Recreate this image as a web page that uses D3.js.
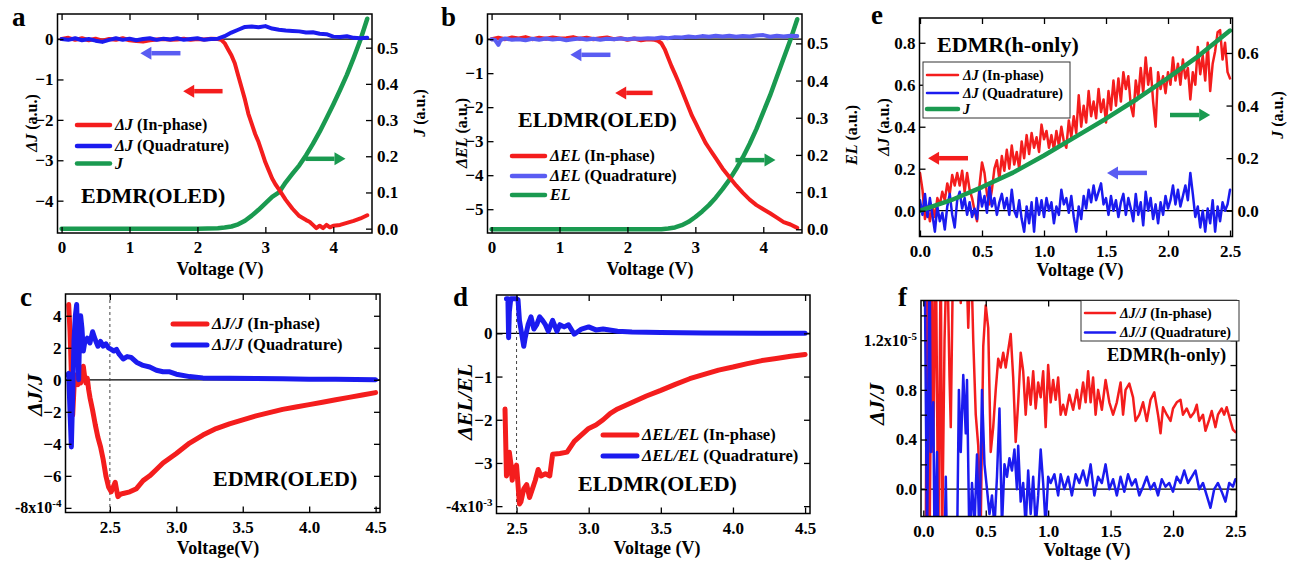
<!DOCTYPE html>
<html>
<head>
<meta charset="utf-8">
<script src="https://cdn.jsdelivr.net/npm/d3@7"></script>
<style>
body { margin: 0; background: #fff; }
svg { font-family: "Liberation Serif", "Times New Roman", serif; font-weight: bold; }
</style>
</head>
<body>
<svg id="fig" width="1291" height="565"></svg>
<script>
// ---- data ----
// panel a : [voltage, value]
const aInPhase = [[0,0],[0.1,0.03],[0.2,-0.02],[0.3,0.02],[0.4,-0.03],[0.5,0.01],[0.6,-0.04],[0.7,0.0],[0.8,-0.02],[0.9,0.02],[1.0,-0.03],[1.1,-0.05],[1.2,-0.06],[1.3,-0.03],[1.4,-0.01],[1.5,0.0],[1.6,-0.02],[1.7,-0.01],[1.8,0.01],[1.9,-0.02],[2.0,0.0],[2.1,-0.01],[2.2,0.01],[2.3,0.0],[2.35,-0.02],[2.4,-0.1],[2.45,-0.25],[2.5,-0.4],[2.55,-0.6],[2.6,-0.9],[2.65,-1.2],[2.7,-1.5],[2.75,-1.85],[2.8,-2.1],[2.85,-2.35],[2.9,-2.55],[2.95,-2.8],[3.0,-3.05],[3.05,-3.25],[3.1,-3.45],[3.15,-3.6],[3.2,-3.72],[3.25,-3.85],[3.3,-3.98],[3.4,-4.2],[3.5,-4.38],[3.6,-4.48],[3.65,-4.52],[3.7,-4.6],[3.75,-4.68],[3.8,-4.62],[3.85,-4.68],[3.9,-4.6],[3.95,-4.66],[4.0,-4.62],[4.1,-4.6],[4.2,-4.55],[4.3,-4.5],[4.4,-4.44],[4.5,-4.36]];
const aQuad = [[0,0],[0.1,-0.02],[0.2,0.02],[0.3,-0.03],[0.4,0.0],[0.5,-0.04],[0.6,-0.07],[0.7,-0.02],[0.8,0.02],[0.9,-0.02],[1.0,0.01],[1.1,-0.03],[1.2,0.0],[1.3,0.02],[1.4,-0.02],[1.5,0.01],[1.6,-0.01],[1.7,0.02],[1.8,-0.02],[1.9,0.0],[2.0,0.02],[2.1,-0.02],[2.2,0.0],[2.3,0.01],[2.4,0.07],[2.5,0.16],[2.6,0.23],[2.7,0.3],[2.8,0.31],[2.9,0.29],[3.0,0.32],[3.1,0.26],[3.2,0.23],[3.3,0.21],[3.4,0.2],[3.5,0.19],[3.6,0.16],[3.7,0.17],[3.8,0.13],[3.9,0.12],[4.0,0.06],[4.1,0.05],[4.2,0.07],[4.3,0.03],[4.4,0.02],[4.5,0.03]];
const aJ = [[0,0],[0.5,0],[1,0],[1.5,0],[2,0],[2.3,0.001],[2.4,0.003],[2.5,0.006],[2.6,0.012],[2.7,0.022],[2.8,0.036],[2.9,0.052],[3.0,0.07],[3.1,0.088],[3.2,0.1],[3.3,0.128],[3.4,0.152],[3.5,0.175],[3.6,0.203],[3.7,0.234],[3.8,0.268],[3.9,0.305],[4.0,0.343],[4.1,0.383],[4.2,0.425],[4.3,0.472],[4.4,0.522],[4.5,0.58]];

// panel b
const bInPhase = [[0,0],[0.1,0.04],[0.2,0.0],[0.3,0.05],[0.4,0.02],[0.5,0.06],[0.6,0.0],[0.7,0.04],[0.8,0.01],[0.9,0.05],[1.0,0.02],[1.1,0.03],[1.2,0.06],[1.3,0.01],[1.4,0.04],[1.5,0.0],[1.6,0.03],[1.7,0.05],[1.8,0.0],[1.9,0.03],[2.0,-0.02],[2.1,0.02],[2.2,-0.03],[2.3,0.0],[2.4,-0.02],[2.45,-0.05],[2.5,-0.12],[2.55,-0.3],[2.6,-0.55],[2.65,-0.8],[2.7,-1.02],[2.75,-1.25],[2.8,-1.5],[2.85,-1.75],[2.9,-2.0],[2.95,-2.25],[3.0,-2.45],[3.05,-2.65],[3.1,-2.85],[3.15,-3.05],[3.2,-3.2],[3.25,-3.35],[3.3,-3.5],[3.4,-3.8],[3.5,-4.05],[3.6,-4.3],[3.7,-4.52],[3.8,-4.72],[3.9,-4.88],[4.0,-5.0],[4.1,-5.12],[4.2,-5.25],[4.3,-5.38],[4.4,-5.45],[4.5,-5.55]];
const bQuad = [[0,0],[0.05,-0.02],[0.1,-0.17],[0.13,-0.03],[0.2,0.02],[0.3,-0.02],[0.4,0.0],[0.5,-0.03],[0.6,0.01],[0.7,-0.02],[0.8,0.02],[0.9,-0.01],[1.0,0.01],[1.1,-0.03],[1.2,0.0],[1.3,0.02],[1.4,-0.01],[1.5,0.01],[1.6,-0.02],[1.7,0.01],[1.8,0.0],[1.9,0.02],[2.0,0.0],[2.1,0.02],[2.2,0.01],[2.3,0.03],[2.4,0.02],[2.5,0.05],[2.6,0.03],[2.7,0.06],[2.8,0.05],[2.9,0.08],[3.0,0.06],[3.1,0.09],[3.2,0.07],[3.3,0.1],[3.4,0.08],[3.5,0.1],[3.6,0.07],[3.7,0.09],[3.8,0.08],[3.9,0.11],[4.0,0.12],[4.1,0.07],[4.2,0.1],[4.3,0.08],[4.4,0.1],[4.5,0.09]];
const bEL = [[0,0],[0.5,0],[1,0],[1.5,0],[2,0],[2.5,0],[2.6,0.002],[2.7,0.005],[2.8,0.011],[2.9,0.02],[3.0,0.033],[3.1,0.048],[3.2,0.065],[3.3,0.085],[3.4,0.108],[3.5,0.133],[3.6,0.162],[3.7,0.194],[3.8,0.23],[3.9,0.27],[4.0,0.315],[4.1,0.36],[4.2,0.41],[4.3,0.46],[4.4,0.51],[4.5,0.565]];

// panel c (x1e-4)
const cInPhase = [[2.19,4.7],[2.2,3.0],[2.21,0.5],[2.22,-2.2],[2.23,-0.5],[2.24,0.3],[2.25,0.0],[2.26,-0.3],[2.27,0.2],[2.28,-0.2],[2.29,0.4],[2.30,0.85],[2.31,0.2],[2.32,-0.2],[2.33,0.1],[2.34,-0.6],[2.35,-1.1],[2.37,-1.9],[2.39,-2.8],[2.41,-3.6],[2.43,-4.2],[2.45,-5.0],[2.47,-6.0],[2.49,-6.7],[2.51,-7.0],[2.53,-6.6],[2.54,-6.4],[2.56,-7.3],[2.58,-7.15],[2.6,-7.1],[2.65,-7.0],[2.7,-6.8],[2.75,-6.3],[2.8,-6.0],[2.85,-5.6],[2.9,-5.2],[2.95,-4.9],[3.0,-4.6],[3.1,-3.95],[3.2,-3.45],[3.3,-3.05],[3.4,-2.75],[3.5,-2.5],[3.6,-2.25],[3.7,-2.05],[3.8,-1.85],[3.9,-1.7],[4.0,-1.55],[4.1,-1.4],[4.2,-1.25],[4.3,-1.1],[4.4,-0.95],[4.5,-0.8]];
const cQuad = [[2.18,0.3],[2.19,0.4],[2.2,-2.0],[2.21,-4.2],[2.22,-1.0],[2.23,2.5],[2.24,4.0],[2.25,4.7],[2.26,2.0],[2.265,0.0],[2.27,2.0],[2.28,4.0],[2.29,3.2],[2.3,1.8],[2.31,2.3],[2.33,2.6],[2.35,2.3],[2.37,3.0],[2.39,2.5],[2.41,2.1],[2.43,2.4],[2.45,2.1],[2.47,2.25],[2.49,2.0],[2.51,1.9],[2.53,1.8],[2.55,1.9],[2.57,1.6],[2.6,1.3],[2.63,1.45],[2.66,1.4],[2.7,1.1],[2.75,0.9],[2.8,0.8],[2.85,0.6],[2.9,0.5],[2.95,0.5],[3.0,0.35],[3.1,0.2],[3.2,0.12],[3.4,0.1],[3.6,0.08],[3.8,0.06],[4.0,0.04],[4.2,0.03],[4.5,0.0]];

// panel d (x1e-3)
const dInPhase = [[2.42,-1.75],[2.43,-3.3],[2.44,-3.2],[2.45,-2.75],[2.46,-3.0],[2.47,-3.4],[2.48,-3.1],[2.49,-3.3],[2.5,-3.05],[2.51,-3.5],[2.52,-3.95],[2.53,-3.9],[2.55,-3.6],[2.57,-3.5],[2.59,-3.8],[2.61,-3.6],[2.63,-3.4],[2.65,-3.15],[2.67,-3.3],[2.7,-3.25],[2.73,-3.3],[2.75,-2.8],[2.8,-2.78],[2.85,-2.75],[2.9,-2.5],[2.95,-2.35],[3.0,-2.2],[3.05,-2.12],[3.1,-2.0],[3.15,-1.85],[3.2,-1.75],[3.3,-1.6],[3.4,-1.45],[3.5,-1.32],[3.6,-1.18],[3.7,-1.05],[3.8,-0.95],[3.9,-0.85],[4.0,-0.78],[4.1,-0.7],[4.2,-0.63],[4.3,-0.58],[4.4,-0.53],[4.5,-0.49]];
const dQuad = [[2.43,0.8],[2.44,0.8],[2.445,-0.1],[2.45,0.5],[2.46,0.8],[2.48,0.8],[2.5,0.8],[2.51,0.78],[2.52,0.3],[2.53,0.1],[2.55,-0.3],[2.56,-0.1],[2.58,0.2],[2.6,0.38],[2.62,0.1],[2.64,0.2],[2.66,0.38],[2.68,0.3],[2.7,0.2],[2.72,0.05],[2.75,0.3],[2.78,0.05],[2.8,0.2],[2.83,0.15],[2.86,0.2],[2.9,-0.02],[2.95,0.1],[3.0,0.15],[3.05,0.08],[3.1,0.1],[3.2,0.05],[3.3,0.03],[3.5,0.02],[3.8,0.01],[4.2,0.0],[4.5,0.0]];

// panel e
const eInPhase = [[0.00,0.18],[0.02,0.10],[0.04,-0.04],[0.06,0.02],[0.08,-0.05],[0.10,0.02],[0.12,-0.03],[0.14,0.06],[0.16,0.03],[0.18,0.09],[0.20,0.05],[0.22,0.13],[0.24,0.08],[0.26,0.17],[0.28,0.12],[0.30,0.18],[0.32,0.12],[0.34,0.19],[0.36,0.09],[0.38,0.18],[0.40,0.10],[0.42,0.06],[0.44,0.00],[0.46,-0.05],[0.48,0.12],[0.50,0.23],[0.52,0.18],[0.54,0.08],[0.56,0.03],[0.58,0.10],[0.60,0.20],[0.62,0.24],[0.64,0.15],[0.66,0.26],[0.68,0.19],[0.70,0.29],[0.72,0.20],[0.74,0.31],[0.76,0.22],[0.78,0.28],[0.80,0.20],[0.82,0.33],[0.84,0.25],[0.86,0.36],[0.88,0.27],[0.90,0.37],[0.92,0.30],[0.94,0.35],[0.96,0.28],[0.98,0.41],[1.00,0.34],[1.02,0.38],[1.04,0.30],[1.06,0.36],[1.08,0.29],[1.10,0.38],[1.12,0.31],[1.14,0.40],[1.16,0.33],[1.18,0.30],[1.20,0.43],[1.22,0.35],[1.24,0.45],[1.26,0.37],[1.28,0.55],[1.30,0.40],[1.32,0.50],[1.34,0.42],[1.36,0.57],[1.38,0.45],[1.40,0.52],[1.42,0.44],[1.44,0.58],[1.46,0.47],[1.48,0.53],[1.50,0.42],[1.52,0.57],[1.54,0.48],[1.56,0.62],[1.58,0.50],[1.60,0.63],[1.62,0.52],[1.64,0.66],[1.66,0.58],[1.68,0.64],[1.70,0.50],[1.72,0.45],[1.74,0.62],[1.76,0.54],[1.78,0.68],[1.80,0.56],[1.82,0.73],[1.84,0.60],[1.86,0.68],[1.88,0.52],[1.90,0.40],[1.92,0.66],[1.94,0.58],[1.96,0.64],[1.98,0.56],[2.00,0.66],[2.02,0.60],[2.04,0.73],[2.06,0.62],[2.08,0.70],[2.10,0.60],[2.12,0.72],[2.14,0.63],[2.16,0.68],[2.18,0.53],[2.20,0.66],[2.22,0.60],[2.24,0.78],[2.26,0.65],[2.28,0.74],[2.30,0.62],[2.32,0.80],[2.34,0.57],[2.36,0.70],[2.38,0.76],[2.40,0.85],[2.42,0.86],[2.44,0.72],[2.46,0.80],[2.48,0.66],[2.50,0.63]];
const eQuad = [[0.00,0.05],[0.02,-0.02],[0.04,0.08],[0.06,-0.03],[0.08,0.06],[0.10,-0.02],[0.12,-0.10],[0.14,0.02],[0.16,-0.05],[0.18,-0.01],[0.20,-0.09],[0.22,0.02],[0.24,0.08],[0.26,-0.02],[0.28,-0.08],[0.30,0.05],[0.32,0.09],[0.34,0.01],[0.36,0.06],[0.38,-0.02],[0.40,0.04],[0.42,-0.03],[0.44,0.01],[0.46,-0.04],[0.48,0.10],[0.50,0.02],[0.52,0.07],[0.54,-0.01],[0.56,0.12],[0.58,0.02],[0.60,0.06],[0.62,-0.02],[0.64,0.04],[0.66,0.08],[0.68,0.01],[0.70,0.06],[0.72,-0.02],[0.74,0.10],[0.76,0.00],[0.78,-0.03],[0.80,0.05],[0.82,-0.04],[0.84,-0.10],[0.86,0.02],[0.88,-0.06],[0.90,0.04],[0.92,-0.10],[0.94,0.06],[0.96,-0.02],[0.98,0.05],[1.00,-0.03],[1.02,0.06],[1.04,0.00],[1.06,0.04],[1.08,-0.06],[1.10,0.02],[1.12,-0.02],[1.14,0.10],[1.16,0.03],[1.18,0.06],[1.20,-0.01],[1.22,0.07],[1.24,-0.03],[1.26,-0.10],[1.28,0.02],[1.30,-0.04],[1.32,0.07],[1.34,0.01],[1.36,0.10],[1.38,0.04],[1.40,0.12],[1.42,0.05],[1.44,0.09],[1.46,0.13],[1.48,0.03],[1.50,0.06],[1.52,-0.02],[1.54,0.07],[1.56,0.00],[1.58,0.05],[1.60,-0.03],[1.62,0.04],[1.64,0.08],[1.66,-0.02],[1.68,0.06],[1.70,0.01],[1.72,-0.05],[1.74,0.08],[1.76,-0.02],[1.78,0.04],[1.80,-0.07],[1.82,0.09],[1.84,0.00],[1.86,0.06],[1.88,-0.04],[1.90,0.03],[1.92,-0.06],[1.94,0.04],[1.96,-0.02],[1.98,0.07],[2.00,0.01],[2.02,0.05],[2.04,0.12],[2.06,0.03],[2.08,0.10],[2.10,0.02],[2.12,0.07],[2.14,0.12],[2.16,0.05],[2.18,0.18],[2.20,0.08],[2.22,-0.03],[2.24,0.02],[2.26,-0.08],[2.28,0.00],[2.30,-0.10],[2.32,0.01],[2.34,-0.06],[2.36,0.05],[2.38,-0.10],[2.40,0.02],[2.42,-0.05],[2.44,0.04],[2.46,0.00],[2.48,0.03],[2.50,0.10]];
const eJ = [[0,0],[0.25,0.04],[0.5,0.09],[0.75,0.145],[1.0,0.21],[1.25,0.28],[1.5,0.35],[1.75,0.425],[2.0,0.505],[2.25,0.59],[2.5,0.685]];

// panel f (x1e-5)
const fInPhase = [[0.02,-0.4],[0.03,2.0],[0.05,-0.5],[0.07,2.0],[0.08,0.3],[0.10,2.0],[0.12,-0.5],[0.14,2.0],[0.15,-0.5],[0.17,1.2],[0.19,2.0],[0.21,0.9],[0.22,0.5],[0.24,2.0],[0.26,1.6],[0.28,2.0],[0.30,1.5],[0.32,2.0],[0.34,2.0],[0.36,1.3],[0.38,2.0],[0.40,1.2],[0.42,0.6],[0.44,0.35],[0.46,-0.3],[0.48,1.15],[0.50,1.48],[0.52,1.30],[0.54,0.3],[0.56,0.5],[0.58,0.8],[0.60,1.05],[0.62,0.98],[0.64,1.1],[0.66,0.98],[0.68,1.12],[0.70,1.25],[0.72,0.9],[0.74,0.38],[0.76,0.7],[0.78,1.1],[0.80,0.95],[0.82,0.6],[0.84,0.9],[0.86,0.68],[0.88,0.95],[0.90,0.65],[0.92,0.86],[0.94,0.74],[0.96,0.95],[0.98,0.5],[1.00,1.0],[1.02,0.7],[1.04,0.88],[1.06,0.72],[1.08,0.9],[1.10,0.6],[1.12,0.68],[1.14,0.6],[1.17,0.76],[1.20,0.64],[1.23,0.8],[1.25,0.65],[1.28,0.86],[1.30,0.7],[1.32,0.95],[1.34,0.7],[1.36,0.9],[1.38,0.6],[1.40,0.8],[1.43,0.64],[1.46,0.88],[1.49,0.7],[1.52,0.6],[1.55,0.7],[1.58,0.86],[1.60,0.6],[1.62,0.8],[1.65,0.85],[1.68,0.74],[1.70,0.55],[1.73,0.6],[1.76,0.7],[1.79,0.55],[1.82,0.72],[1.85,0.78],[1.88,0.6],[1.90,0.45],[1.92,0.66],[1.95,0.6],[1.98,0.55],[2.00,0.65],[2.03,0.7],[2.06,0.72],[2.08,0.6],[2.11,0.65],[2.14,0.58],[2.17,0.62],[2.19,0.68],[2.21,0.55],[2.24,0.6],[2.26,0.47],[2.29,0.56],[2.31,0.63],[2.34,0.5],[2.36,0.6],[2.39,0.65],[2.41,0.6],[2.43,0.66],[2.46,0.55],[2.48,0.48],[2.50,0.46]];
const fQuad = [[0.01,2.0],[0.03,-0.5],[0.05,2.0],[0.06,0.3],[0.08,0.7],[0.09,-0.5],[0.11,0.3],[0.12,-0.5],[0.17,-0.5],[0.18,0.1],[0.19,-0.5],[0.27,-0.5],[0.285,0.8],[0.30,0.3],[0.32,0.92],[0.34,0.45],[0.35,0.88],[0.37,-0.5],[0.39,0.05],[0.41,-0.3],[0.43,0.28],[0.45,-0.4],[0.47,0.8],[0.49,0.2],[0.51,0.0],[0.53,-0.2],[0.55,-0.05],[0.57,-0.3],[0.59,0.1],[0.61,0.65],[0.63,-0.3],[0.65,0.2],[0.67,0.1],[0.69,0.25],[0.71,0.15],[0.73,0.32],[0.75,0.0],[0.76,0.35],[0.78,-0.1],[0.80,0.05],[0.82,-0.3],[0.84,0.15],[0.86,-0.2],[0.88,0.1],[0.90,-0.3],[0.92,-0.05],[0.94,0.32],[0.96,0.05],[0.98,-0.3],[1.00,0.1],[1.02,0.05],[1.05,0.12],[1.08,-0.05],[1.10,0.12],[1.13,0.0],[1.16,0.1],[1.19,-0.05],[1.22,0.12],[1.25,0.05],[1.28,0.15],[1.31,0.03],[1.34,0.2],[1.37,-0.05],[1.40,0.1],[1.43,0.05],[1.46,0.2],[1.49,0.0],[1.52,0.08],[1.55,-0.05],[1.58,0.1],[1.61,-0.02],[1.64,0.12],[1.67,0.03],[1.70,0.08],[1.73,-0.05],[1.76,0.02],[1.79,0.1],[1.82,0.0],[1.85,0.05],[1.88,-0.05],[1.91,0.08],[1.94,0.02],[1.97,0.05],[2.00,-0.02],[2.03,0.1],[2.06,0.05],[2.09,0.15],[2.12,0.05],[2.15,0.1],[2.18,0.15],[2.21,0.0],[2.24,0.05],[2.27,-0.05],[2.30,-0.15],[2.33,0.0],[2.36,0.05],[2.39,-0.02],[2.42,-0.1],[2.45,0.05],[2.48,0.02],[2.50,0.08]];

// tick values
const xTicksOled = [0, 1, 2, 3, 4];
const xTicksHole = [0, 0.5, 1.0, 1.5, 2.0, 2.5];
const xTicksRatio = [2.5, 3.0, 3.5, 4.0, 4.5];
const aYTicks = [-4, -3, -2, -1, 0];
const bYTicks = [-5, -4, -3, -2, -1, 0];
const rightTicksOled = [0, 0.1, 0.2, 0.3, 0.4, 0.5];
const eYTicks = [0, 0.2, 0.4, 0.6, 0.8];
const eRightTicks = [0, 0.2, 0.4, 0.6];
const cYTicks = [-8, -6, -4, -2, 0, 2, 4];
const dYTicks = [-4, -3, -2, -1, 0];
const fYTicks = [0, 0.2, 0.4, 0.6, 0.8, 1.0, 1.2, 1.4];
const fYLabels = [0, 0.4, 0.8, 1.2];

const RED = '#f41d1d', BLUE = '#1b1bef', GREEN = '#1a9a50', LBLUE = '#5a5cf2';
const TICK_FONT = 17;

const svg = d3.select('#fig');
const f1 = d3.format('.1f');

function makePanel (p) {
    const x = d3.scaleLinear().domain(p.xDomain).range([p.left, p.right]);
    const y = d3.scaleLinear().domain(p.yDomain).range([p.bottom, p.top]);
    const y2 = p.y2Domain ? d3.scaleLinear().domain(p.y2Domain).range([p.bottom, p.top]) : null;
    const g = svg.append('g');

    g.append('clipPath').attr('id', 'clip-' + p.id)
        .append('rect')
        .attr('x', p.left).attr('y', p.top)
        .attr('width', p.right - p.left).attr('height', p.bottom - p.top);

    const plot = g.append('g').attr('clip-path', 'url(#clip-' + p.id + ')');

    plot.append('line')
        .attr('x1', p.left).attr('x2', p.right)
        .attr('y1', y(0)).attr('y2', y(0))
        .attr('stroke', '#000').attr('stroke-width', 1.3);

    if (p.dashAt) {
        plot.append('line')
            .attr('x1', x(p.dashAt)).attr('x2', x(p.dashAt))
            .attr('y1', p.top).attr('y2', p.bottom)
            .attr('stroke', '#444').attr('stroke-width', 1)
            .attr('stroke-dasharray', '3,3');
    }
    return {g: g, plot: plot, x: x, y: y, y2: y2, p: p};
}

function series (P, data, color, width, useRight) {
    const ys = useRight ? P.y2 : P.y;
    P.plot.append('path')
        .datum(data)
        .attr('fill', 'none')
        .attr('stroke', color)
        .attr('stroke-width', width)
        .attr('stroke-linejoin', 'round')
        .attr('stroke-linecap', 'round')
        .attr('d', d3.line().x(d => P.x(d[0])).y(d => ys(d[1])));
}

function styleAxis (sel, size) {
    sel.attr('font-family', null).attr('font-size', size).attr('font-weight', 'bold');
    sel.select('.domain').remove();
    sel.selectAll('.tick line').attr('stroke', '#000').attr('stroke-width', 1.3);
}

function axes (P, o) {
    const p = P.p;
    P.g.append('g').attr('transform', 'translate(0,' + p.bottom + ')')
        .call(d3.axisBottom(P.x).tickValues(o.xTicks).tickFormat(o.xFmt).tickSize(-6).tickPadding(8))
        .call(styleAxis, TICK_FONT);
    P.g.append('g').attr('transform', 'translate(0,' + p.top + ')')
        .call(d3.axisTop(P.x).tickValues(o.xTicks).tickFormat('').tickSize(-6))
        .call(styleAxis, TICK_FONT);

    const left = P.g.append('g').attr('transform', 'translate(' + p.left + ',0)')
        .call(d3.axisLeft(P.y).tickValues(o.yTicks).tickFormat(o.yFmt).tickSize(-6).tickPadding(4))
        .call(styleAxis, TICK_FONT);
    if (o.sup) {
        left.selectAll('.tick text')
            .filter(d => d === o.sup.at)
            .attr('font-size', 16)
            .text(o.sup.base)
            .append('tspan').attr('dy', '-0.55em').attr('font-size', '11px').text(o.sup.exp);
    }

    if (P.y2) {
        P.g.append('g').attr('transform', 'translate(' + p.right + ',0)')
            .call(d3.axisRight(P.y2).tickValues(o.y2Ticks).tickFormat(f1).tickSize(-6).tickPadding(5))
            .call(styleAxis, TICK_FONT);
    } else {
        P.g.append('g').attr('transform', 'translate(' + p.right + ',0)')
            .call(d3.axisRight(P.y).tickValues(o.yTicks).tickFormat('').tickSize(-6))
            .call(styleAxis, TICK_FONT);
    }

    P.g.append('rect')
        .attr('x', p.left).attr('y', p.top)
        .attr('width', p.right - p.left).attr('height', p.bottom - p.top)
        .attr('fill', 'none').attr('stroke', '#000').attr('stroke-width', 1.5);
}

// text built from parts, italic where flagged
function richText (g, x, y, parts, size, anchor, rotate) {
    const t = g.append('text')
        .attr('font-size', size)
        .attr('text-anchor', anchor || 'start')
        .attr('transform', rotate ? 'translate(' + x + ',' + y + ') rotate(-90)' : 'translate(' + x + ',' + y + ')');
    parts.forEach(function (pt) {
        t.append('tspan').attr('font-style', pt[1] ? 'italic' : 'normal').text(pt[0]);
    });
    return t;
}

function legend (g, items, x0, rows, len, size, lw) {
    items.forEach(function (it, i) {
        g.append('line')
            .attr('x1', x0).attr('x2', x0 + len)
            .attr('y1', rows[i]).attr('y2', rows[i])
            .attr('stroke', it.color).attr('stroke-width', it.width || lw)
            .attr('stroke-linecap', 'round');
        richText(g, x0 + len + 5, rows[i] + size * 0.33, it.parts, size);
    });
}

function arrow (P, from, to, val, useRight, color) {
    const ys = useRight ? P.y2 : P.y;
    const x1 = P.x(from), x2 = P.x(to), yy = ys(val);
    const dir = x2 > x1 ? 1 : -1;
    const head = 11, half = 6.5;
    P.g.append('line')
        .attr('x1', x1).attr('x2', x2 - dir * head)
        .attr('y1', yy).attr('y2', yy)
        .attr('stroke', color).attr('stroke-width', 4.5);
    P.g.append('path')
        .attr('d', 'M' + x2 + ',' + yy + 'L' + (x2 - dir * head) + ',' + (yy - half) + 'L' + (x2 - dir * head) + ',' + (yy + half) + 'Z')
        .attr('fill', color);
}

function panelLabel (x, y, s) {
    svg.append('text').attr('x', x).attr('y', y).attr('font-size', 27).text(s);
}

// ---------------- panel a ----------------
const A = makePanel({id: 'a', left: 57.5, right: 372, top: 14, bottom: 233,
    xDomain: [-0.06, 4.57], yDomain: [-4.8, 0.62], y2Domain: [-0.012, 0.593]});
series(A, aJ, GREEN, 4.5, true);
series(A, aInPhase, RED, 4);
series(A, aQuad, BLUE, 4);
axes(A, {xTicks: xTicksOled, xFmt: d3.format('d'), yTicks: aYTicks, yFmt: d3.format('d'), y2Ticks: rightTicksOled});
arrow(A, 1.75, 1.16, -0.35, false, LBLUE);
arrow(A, 2.37, 1.79, -1.29, false, RED);
arrow(A, 3.59, 4.18, 0.193, true, GREEN);
legend(A.g, [
    {color: RED, parts: [['ΔJ', true], [' (In-phase)']]},
    {color: BLUE, parts: [['ΔJ', true], [' (Quadrature)']]},
    {color: GREEN, parts: [['J', true]]}
], 77, [125, 146, 163.5], 33, 16, 4.5);
richText(A.g, 81, 203, [['EDMR(OLED)']], 22);
richText(A.g, 37, 123, [['ΔJ', true], [' (a.u.)']], 16, 'middle', true);
richText(A.g, 425, 113, [['J', true], [' (a.u.)']], 16, 'middle', true);
richText(A.g, 220, 275, [['Voltage (V)']], 18, 'middle');
panelLabel(12, 26, 'a');

// ---------------- panel b ----------------
const B = makePanel({id: 'b', left: 487.5, right: 802, top: 14, bottom: 233,
    xDomain: [-0.06, 4.57], yDomain: [-5.7, 0.74], y2Domain: [-0.01, 0.579]});
series(B, bEL, GREEN, 4.5, true);
series(B, bInPhase, RED, 4);
series(B, bQuad, LBLUE, 4);
axes(B, {xTicks: xTicksOled, xFmt: d3.format('d'), yTicks: bYTicks, yFmt: d3.format('d'), y2Ticks: rightTicksOled});
arrow(B, 1.75, 1.16, -0.46, false, LBLUE);
arrow(B, 2.37, 1.82, -1.58, false, RED);
arrow(B, 3.59, 4.18, 0.186, true, GREEN);
legend(B.g, [
    {color: RED, parts: [['ΔEL', true], [' (In-phase)']]},
    {color: LBLUE, parts: [['ΔEL', true], [' (Quadrature)']]},
    {color: GREEN, parts: [['EL', true]]}
], 512, [156, 176, 195], 33, 16, 4.5);
richText(B.g, 518, 127, [['ELDMR(OLED)']], 22);
richText(B.g, 467, 133, [['ΔEL', true], [' (a.u.)']], 16, 'middle', true);
richText(B.g, 857, 135, [['EL', true], [' (a.u.)']], 16, 'middle', true);
richText(B.g, 650, 275, [['Voltage (V)']], 18, 'middle');
panelLabel(441, 26, 'b');

// ---------------- panel e ----------------
const E = makePanel({id: 'e', left: 919.5, right: 1232.5, top: 18, bottom: 236.5,
    xDomain: [-0.004, 2.52], yDomain: [-0.123, 0.918], y2Domain: [-0.098, 0.733]});
series(E, eInPhase, RED, 2.5);
series(E, eQuad, BLUE, 2.5);
series(E, eJ, GREEN, 4.5, true);
axes(E, {xTicks: xTicksHole, xFmt: f1, yTicks: eYTicks, yFmt: f1, y2Ticks: eRightTicks});
arrow(E, 0.387, 0.065, 0.25, false, RED);
arrow(E, 1.83, 1.508, 0.18, false, LBLUE);
arrow(E, 2.016, 2.34, 0.364, true, GREEN);
E.g.append('rect').attr('x', 923).attr('y', 62).attr('width', 147).attr('height', 56)
    .attr('fill', '#fff').attr('stroke', '#333').attr('stroke-width', 1);
legend(E.g, [
    {color: RED, parts: [['ΔJ', true], [' (In-phase)']]},
    {color: BLUE, parts: [['ΔJ', true], [' (Quadrature)']]},
    {color: GREEN, parts: [['J', true]], width: 4.5}
], 927, [75, 93, 109], 31, 14, 2.5);
richText(E.g, 937, 52, [['EDMR(h-only)']], 22);
richText(E.g, 889, 127, [['ΔJ', true], [' (a.u.)']], 16, 'middle', true);
richText(E.g, 1283, 115, [['J', true], [' (a.u.)']], 16, 'middle', true);
richText(E.g, 1080, 276, [['Voltage (V)']], 18, 'middle');
panelLabel(871, 24, 'e');

// ---------------- panel c ----------------
const C = makePanel({id: 'c', left: 65.5, right: 380, top: 294, bottom: 512.5,
    xDomain: [2.166, 4.533], yDomain: [-8.29, 5.36], dashAt: 2.5});
series(C, cInPhase, RED, 5);
series(C, cQuad, BLUE, 5);
axes(C, {xTicks: xTicksRatio, xFmt: f1, yTicks: cYTicks, yFmt: d3.format('d'), sup: {at: -8, base: '-8x10', exp: '-4'}});
legend(C.g, [
    {color: RED, parts: [['ΔJ/J', true], [' (In-phase)']]},
    {color: BLUE, parts: [['ΔJ/J', true], [' (Quadrature)']]}
], 173, [324, 345], 34, 16.5, 5);
richText(C.g, 213, 486, [['EDMR(OLED)']], 22);
richText(C.g, 42, 395, [['ΔJ/J', true]], 22, 'middle', true);
richText(C.g, 218, 554, [['Voltage(V)']], 18, 'middle');
panelLabel(20, 306, 'c');

// ---------------- panel d ----------------
const D = makePanel({id: 'd', left: 496.5, right: 810, top: 295, bottom: 513.5,
    xDomain: [2.361, 4.534], yDomain: [-4.17, 0.888], dashAt: 2.5});
series(D, dInPhase, RED, 5);
series(D, dQuad, BLUE, 5);
axes(D, {xTicks: xTicksRatio, xFmt: f1, yTicks: dYTicks, yFmt: d3.format('d'), sup: {at: -4, base: '-4x10', exp: '-3'}});
legend(D.g, [
    {color: RED, parts: [['ΔEL/EL', true], [' (In-phase)']]},
    {color: BLUE, parts: [['ΔEL/EL', true], [' (Quadrature)']]}
], 603, [435, 456], 34, 16.5, 5);
richText(D.g, 578, 491, [['ELDMR(OLED)']], 22);
richText(D.g, 472, 402, [['ΔEL/EL', true]], 22, 'middle', true);
richText(D.g, 657, 554, [['Voltage (V)']], 18, 'middle');
panelLabel(453, 306, 'd');

// ---------------- panel f ----------------
const F = makePanel({id: 'f', left: 921, right: 1236.5, top: 300.5, bottom: 516.5,
    xDomain: [-0.0185, 2.5085], yDomain: [-0.22, 1.52]});
series(F, fInPhase, RED, 2.5);
series(F, fQuad, BLUE, 2.5);
axes(F, {xTicks: xTicksHole, xFmt: f1, yTicks: fYTicks,
    yFmt: d => fYLabels.some(v => Math.abs(v - d) < 1e-9) ? f1(d) : '',
    sup: {at: 1.2, base: '1.2x10', exp: '-5'}});
F.g.append('rect').attr('x', 1081).attr('y', 300.5).attr('width', 158).attr('height', 40.5)
    .attr('fill', '#fff').attr('stroke', '#333').attr('stroke-width', 1);
legend(F.g, [
    {color: RED, parts: [['ΔJ/J', true], [' (In-phase)']]},
    {color: BLUE, parts: [['ΔJ/J', true], [' (Quadrature)']]}
], 1085, [313, 332.5], 30, 14, 2.5);
richText(F.g, 1107, 361, [['EDMR(h-only)']], 18.5);
richText(F.g, 884, 404, [['ΔJ/J', true]], 22, 'middle', true);
richText(F.g, 1087, 556, [['Voltage (V)']], 18, 'middle');
panelLabel(898, 306, 'f');
</script>
</body>
</html>
